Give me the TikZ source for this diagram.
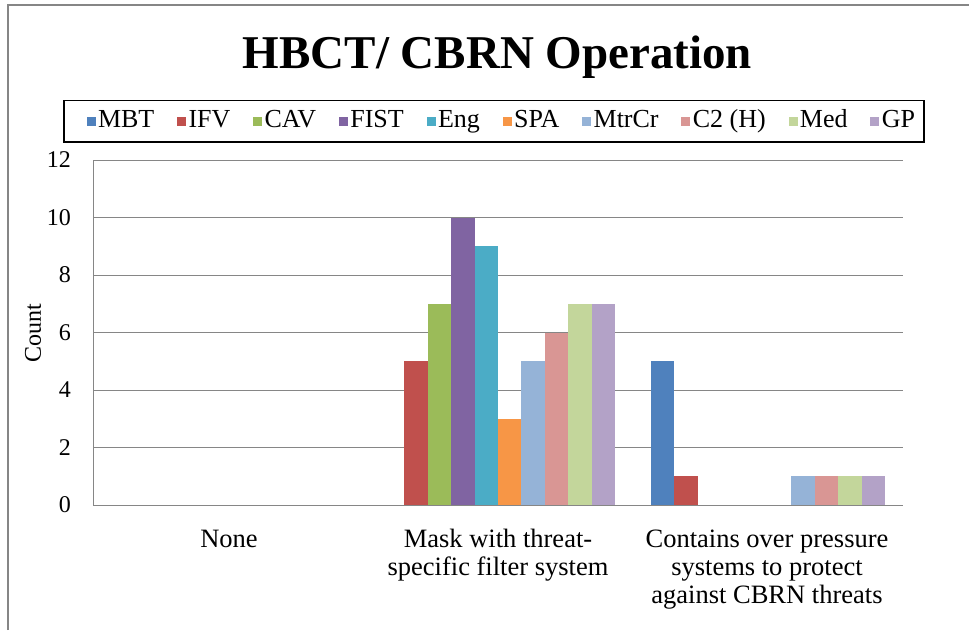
\documentclass[tikz,border=0pt]{standalone}
\usepackage{fontspec}
\setmainfont{Liberation Serif}
\usetikzlibrary{positioning}
\definecolor{axisgray}{HTML}{868686}
\definecolor{cMBT}{HTML}{4F81BD}
\definecolor{cIFV}{HTML}{C0504D}
\definecolor{cCAV}{HTML}{9BBB59}
\definecolor{cFIST}{HTML}{8064A2}
\definecolor{cEng}{HTML}{4BACC6}
\definecolor{cSPA}{HTML}{F79646}
\definecolor{cMtrCr}{HTML}{95B3D7}
\definecolor{cCtwo}{HTML}{D99694}
\definecolor{cMed}{HTML}{C3D69B}
\definecolor{cGP}{HTML}{B3A2C7}
\tikzset{%
  frame/.style={draw=axisgray, line width=1.2pt},
  grid line/.style={draw=axisgray, line width=1pt},
  chart title/.style={anchor=base, inner sep=0pt, font=\bfseries\fontsize{47}{56}\selectfont},
  tick label/.style={anchor=east, inner sep=0pt, font=\fontsize{24}{28}\selectfont},
  cat label/.style={anchor=base, align=center, inner sep=0pt, font=\fontsize{26.5}{28}\selectfont},
  key/.style={rectangle, minimum size=9pt, inner sep=0pt},
  key text/.style={inner sep=0pt, text height=18pt, text depth=6pt, font=\fontsize{26}{28}\selectfont}
}

\begin{document}
\begin{tikzpicture}[x=1pt, y=-1pt]
  \useasboundingbox (0,0) rectangle (969,630);
  \draw[frame] (8,630) -- (8,5) -- (969,5);

  \node[chart title] (title) at (497.5,68) {HBCT/ CBRN Operation};

  % legend
  \draw[line width=1.3pt] (64,100.5) rectangle (924,142);
  \coordinate (t0) at (64,121);
  \foreach \col/\name [count=\i, remember=\i as \j (initially 0)] in
      {cMBT/MBT, cIFV/IFV, cCAV/CAV, cFIST/FIST, cEng/Eng, cSPA/SPA,
       cMtrCr/MtrCr, cCtwo/C2 (H), cMed/Med, cGP/GP} {
    \node[key, fill=\col, right=22.4pt of t\j] (k\i) {};
    \node[key text, right=2pt of k\i] (t\i) {\name};
  }

  % grid and axis
  \foreach \g in {0,...,6} {
    \pgfmathtruncatemacro\lab{2*\g}
    \draw[grid line] (93,{505-57.5*\g}) -- (903,{505-57.5*\g});
    \node[tick label] (y\lab) at (71,{505-57.5*\g}) {\lab};
  }
  \draw[grid line] (93,160) -- (93,505);
  \node[rotate=90, inner sep=0pt, font=\fontsize{24}{28}\selectfont] (ylabel) at (33,333) {Count};

  % bars
  \foreach \col/\val [count=\i from 0] in
      {cMBT/0, cIFV/5, cCAV/7, cFIST/10, cEng/9, cSPA/3,
       cMtrCr/5, cCtwo/6, cMed/7, cGP/7} {
    \ifnum\val>0 \fill[\col] ({381+23.4*\i},505) rectangle ++(23.4,{-28.75*\val}); \fi
  }
  \foreach \col/\val [count=\i from 0] in
      {cMBT/5, cIFV/1, cCAV/0, cFIST/0, cEng/0, cSPA/0,
       cMtrCr/1, cCtwo/1, cMed/1, cGP/1} {
    \ifnum\val>0 \fill[\col] ({651+23.4*\i},505) rectangle ++(23.4,{-28.75*\val}); \fi
  }
  \draw[grid line] (93,505) -- (903,505);

  % categories (base anchor sits on the last line)
  \node[cat label] (none) at (229,547) {None};
  \node[cat label] (mask) at (498,575) {Mask with threat-\\specific filter system};
  \node[cat label] (contains) at (767,603) {Contains over pressure\\systems to protect\\against CBRN threats};
\end{tikzpicture}
\end{document}
